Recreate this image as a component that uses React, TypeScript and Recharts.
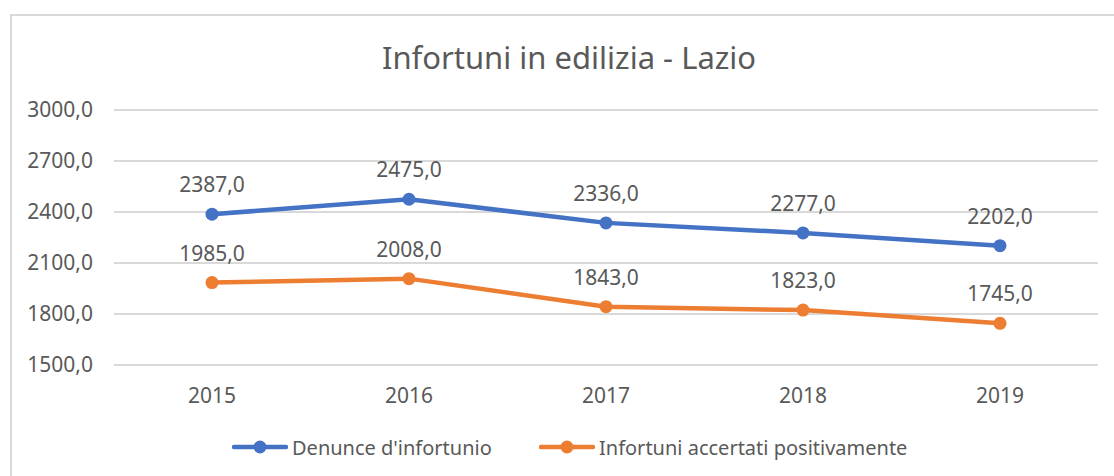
import { LineChart, Line, XAxis, YAxis, CartesianGrid, LabelList, Legend } from 'recharts';

const years = ['2015', '2016', '2017', '2018', '2019'];
const denunce = [2387, 2475, 2336, 2277, 2202];
const accertati = [1985, 2008, 1843, 1823, 1745];
const yTicks = [1500, 1800, 2100, 2400, 2700, 3000];

const BLUE = '#4472C4';
const ORANGE = '#ED7D31';
const TEXT = '#595959';
const FONT = '"Noto Sans", "Open Sans", sans-serif';

const fmt = (v: number) => v.toFixed(1).replace('.', ',');

const data = years.map((year, i) => ({ year, denunce: denunce[i], accertati: accertati[i] }));

function LegendIcon({ color }: { color: string }) {
  return (
    <svg width={56} height={16} style={{ display: 'block' }}>
      <line x1={2} y1={8} x2={54} y2={8} stroke={color} strokeWidth={4.5} strokeLinecap="round" />
      <circle cx={28} cy={8} r={6.5} fill={color} />
    </svg>
  );
}

function CustomLegend() {
  const items = [
    { name: "Denunce d'infortunio", color: BLUE, left: 232 },
    { name: 'Infortuni accertati positivamente', color: ORANGE, left: 539 },
  ];
  return (
    <div style={{ position: 'relative', width: 1114, height: 30 }}>
      {items.map((it) => (
        <div
          key={it.name}
          style={{ position: 'absolute', left: it.left, top: 0, display: 'flex', alignItems: 'center', height: 30 }}
        >
          <LegendIcon color={it.color} />
          <span style={{ marginLeft: 4, fontSize: 20, color: TEXT, fontFamily: FONT, whiteSpace: 'nowrap' }}>{it.name}</span>
        </div>
      ))}
    </div>
  );
}

export default function App() {
  return (
    <div style={{ position: 'absolute', left: 0, top: 0, width: 1114, height: 476, overflow: 'hidden', background: '#fff' }}>
      <div
        style={{
          position: 'absolute',
          left: 10,
          top: 14,
          width: 1200,
          height: 600,
          borderLeft: '2px solid #d9d9d9',
          borderTop: '2px solid #d9d9d9',
        }}
      />
      <div
        style={{
          position: 'absolute',
          left: 0,
          width: 1138,
          top: 37,
          textAlign: 'center',
          fontFamily: FONT,
          fontSize: 31,
          color: TEXT,
          lineHeight: '40px',
        }}
      >
        Infortuni in edilizia - Lazio
      </div>
      <div style={{ position: 'absolute', left: 0, top: 0 }}>
        <LineChart
          width={1114}
          height={476}
          data={data}
          margin={{ top: 110, right: 16, left: 14, bottom: 0 }}
          style={{ fontFamily: FONT }}
        >
          <CartesianGrid vertical={false} stroke="#d9d9d9" strokeWidth={2} />
          <XAxis
            dataKey="year"
            height={81}
            padding={{ left: 98, right: 98 }}
            axisLine={false}
            tickLine={false}
            tickSize={0}
            tickMargin={23}
            tick={{ fontSize: 21, fill: TEXT }}
          />
          <YAxis
            width={100}
            domain={[1500, 3000]}
            ticks={yTicks}
            axisLine={false}
            tickLine={false}
            tickSize={0}
            tickMargin={21}
            tickFormatter={fmt}
            tick={{ fontSize: 21, fill: TEXT }}
            interval={0}
          />
          <Legend
            verticalAlign="bottom"
            height={30}
            content={() => <CustomLegend />}
            wrapperStyle={{ left: 0, top: 432, width: 1114 }}
          />
          <Line
            dataKey="denunce"
            name="Denunce d'infortunio"
            stroke={BLUE}
            strokeWidth={4.5}
            dot={{ r: 6.5, fill: BLUE, stroke: BLUE, strokeWidth: 0 }}
            isAnimationActive={false}
          >
            <LabelList dataKey="denunce" position="top" offset={22} formatter={(v: any) => fmt(Number(v))} style={{ fontSize: 21, fill: TEXT }} />
          </Line>
          <Line
            dataKey="accertati"
            name="Infortuni accertati positivamente"
            stroke={ORANGE}
            strokeWidth={4.5}
            dot={{ r: 6.5, fill: ORANGE, stroke: ORANGE, strokeWidth: 0 }}
            isAnimationActive={false}
          >
            <LabelList dataKey="accertati" position="top" offset={22} formatter={(v: any) => fmt(Number(v))} style={{ fontSize: 21, fill: TEXT }} />
          </Line>
        </LineChart>
      </div>
    </div>
  );
}
